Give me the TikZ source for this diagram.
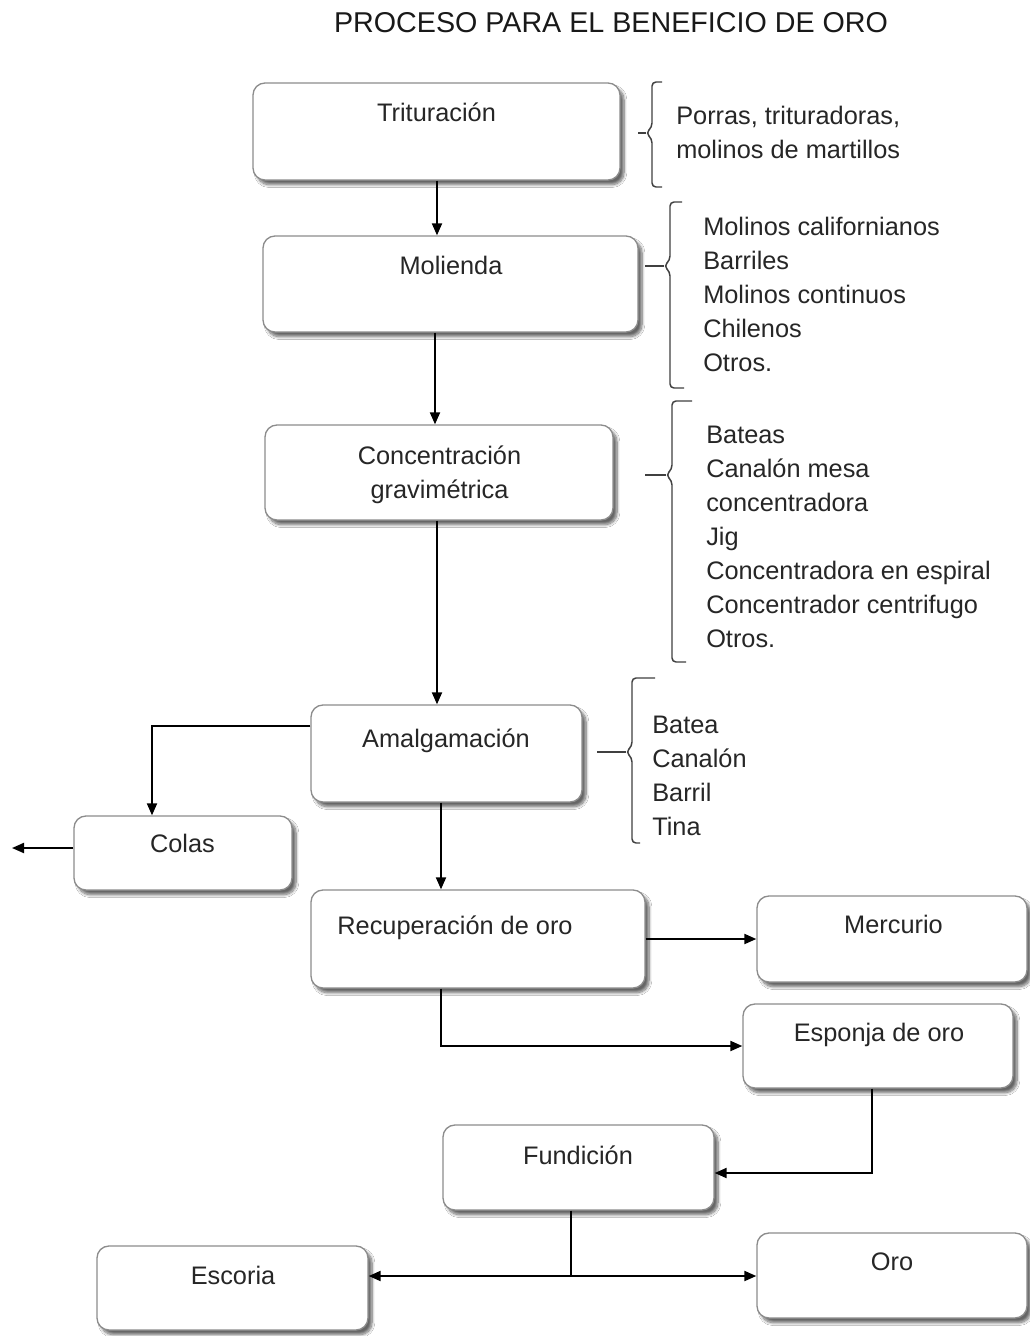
\documentclass[tikz,border=0pt]{standalone}
\usepackage{fontspec}
\setmainfont{Liberation Sans}
\usetikzlibrary{arrows.meta,shadows.blur}

\begin{document}
\begin{tikzpicture}[x=0.75pt,y=-0.75pt,
	box/.style={draw=black!45, line width=1pt, rounded corners=9pt, fill=white,
		blur shadow={shadow xshift=3pt, shadow yshift=-3.5pt, shadow opacity=60, shadow blur steps=8}},
	txt/.style={anchor=north, inner sep=0pt, font=\fontsize{19}{25.5}\selectfont, text=black!85},
	lst/.style={anchor=north west, inner sep=0pt, align=left, font=\fontsize{19}{25.5}\selectfont, text=black!85},
	arr/.style={-{Triangle[length=9pt,width=7.5pt]}, line width=1.5pt},
	brace/.style={draw=black!75, line width=1.1pt, rounded corners=3pt}]
	\useasboundingbox[fill=white] (0,0) rectangle (1030,1336);

	\node[anchor=north, inner sep=0pt, font=\fontsize{21.5}{26}\selectfont, text=black!90] (titulo) at (611,12) {PROCESO PARA EL BENEFICIO DE ORO};

	% cajas
	\node[box, minimum width=275.25pt, minimum height=72.75pt] (trit) at (436.5,131.5) {};
	\node[box, minimum width=281.25pt, minimum height=72pt] (mol) at (450.5,284) {};
	\node[box, minimum width=261pt, minimum height=71.25pt] (conc) at (439,472.5) {};
	\node[box, minimum width=203.25pt, minimum height=72.75pt] (amal) at (446.5,753.5) {};
	\node[box, minimum width=163.5pt, minimum height=55.5pt] (colas) at (183,853) {};
	\node[box, minimum width=250.5pt, minimum height=73.5pt] (recup) at (478,939) {};
	\node[box, minimum width=202.5pt, minimum height=64.5pt] (merc) at (892,939) {};
	\node[box, minimum width=202.5pt, minimum height=63pt] (esp) at (878,1046) {};
	\node[box, minimum width=203.25pt, minimum height=63.75pt] (fund) at (578.5,1167.5) {};
	\node[box, minimum width=203.25pt, minimum height=63pt] (esc) at (232.5,1288) {};
	\node[box, minimum width=202.5pt, minimum height=63.75pt] (oro) at (892,1275.5) {};

	% textos de las cajas
	\node[txt] (trit-t) at (436.5,103) {Trituración};
	\node[txt] (mol-t) at (451,256) {Molienda};
	\node[txt, align=center] (conc-t) at (439.5,446) {Concentración\\gravimétrica};
	\node[txt] (amal-t) at (446,729) {Amalgamación};
	\node[txt] (colas-t) at (182.5,834) {Colas};
	\node[txt] (recup-t) at (455,916) {Recuperación de oro};
	\node[txt] (merc-t) at (893.5,915) {Mercurio};
	\node[txt] (esp-t) at (879,1023) {Esponja de oro};
	\node[txt] (fund-t) at (578,1146) {Fundición};
	\node[txt] (esc-t) at (233,1266) {Escoria};
	\node[txt] (oro-t) at (892,1253) {Oro};

	% llaves y listas
	\draw[brace] (662,82) -- (652,82) -- (652,127) -- (646,133) -- (652,139) -- (652,187) -- (662,187);
	\draw[brace] (646,133) -- (638,133);
	\node[lst] (lista1) at (676,106) {Porras, trituradoras,\\molinos de martillos};

	\draw[brace] (682,202) -- (670,202) -- (670,260) -- (664,266) -- (670,272) -- (670,388) -- (684,388);
	\draw[brace] (664,266) -- (645,266);
	\node[lst] (lista2) at (703,217) {Molinos californianos\\Barriles\\Molinos continuos\\Chilenos\\Otros.};

	\draw[brace] (692,401) -- (672,401) -- (672,469) -- (666,475) -- (672,481) -- (672,662) -- (686,662);
	\draw[brace] (666,475) -- (645,475);
	\node[lst] (lista3) at (706,426) {Bateas\\Canalón mesa\\concentradora\\Jig\\Concentradora en espiral\\Concentrador centrifugo\\Otros.};

	\draw[brace] (655,678) -- (632,678) -- (632,746) -- (626,752) -- (632,758) -- (632,843) -- (640,843);
	\draw[brace] (626,752) -- (597,752);
	\node[lst] (lista4) at (652,716) {Batea\\Canalón\\Barril\\Tina};

	% flechas
	\draw[arr] (trit.south -| 437,0) -- (mol.north -| 437,0);
	\draw[arr] (mol.south -| 435,0) -- (conc.north -| 435,0);
	\draw[arr] (conc.south -| 437,0) -- (amal.north -| 437,0);
	\draw[arr] (amal.west |- 0,726) -| (colas.north -| 152,0);
	\coordinate (fuera) at (12,848);
	\draw[arr] (colas.west |- fuera) -- (fuera);
	\draw[arr] (amal.south -| 441,0) -- (recup.north -| 441,0);
	\draw[arr] (recup.east) -- (merc.west);
	\draw[arr] (recup.south -| 441,0) |- (esp.west);
	\draw[arr] (esp.south -| 872,0) |- (fund.east |- 0,1173);
	\coordinate (rama) at (571,1276);
	\draw[line width=1.5pt] (fund.south -| rama) -- (rama);
	\draw[arr] (rama) -- (esc.east |- rama);
	\draw[arr] (rama) -- (oro.west |- rama);
\end{tikzpicture}
\end{document}
